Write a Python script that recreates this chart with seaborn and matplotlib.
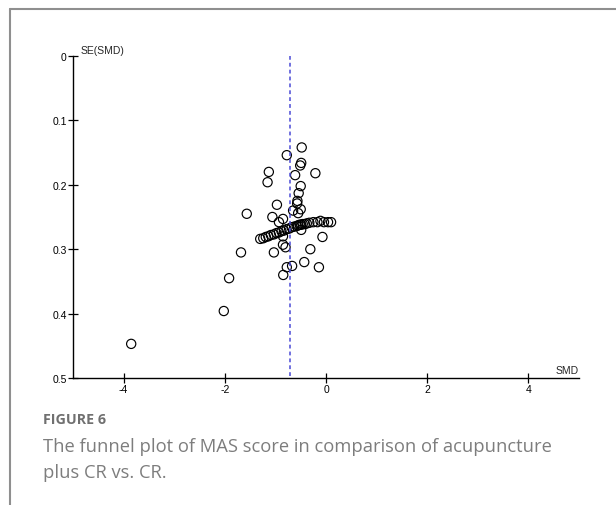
import matplotlib
matplotlib.use("Agg")
import matplotlib.pyplot as plt
from matplotlib.lines import Line2D
import numpy as np
import pandas as pd
import seaborn as sns

# ---- data ----
smd = [-3.85, -2.02, -1.915, -1.68, -1.566, -1.03, -0.97, -1.13, -1.155, -0.775,
       -0.48, -0.49, -0.51, -0.61, -0.21, -0.50, -0.54, -0.565, -0.57, -0.65,
       -0.50, -0.55, -1.06, -0.85, -0.93, -0.07, -0.31, -0.43, -0.14, -0.67,
       -0.775, -0.845, -0.85, -0.80, -0.85, -0.49,
       -1.30, -1.24, -1.19, -1.14, -1.09, -1.03, -0.98, -0.93, -0.88, -0.83,
       -0.78, -0.73, -0.68, -0.63, -0.58,
       -0.55, -0.52, -0.49, -0.46, -0.42, -0.38, -0.33, -0.25, -0.17, -0.11,
       -0.04, 0.04, 0.10]
se = [0.447, 0.396, 0.345, 0.305, 0.245, 0.305, 0.231, 0.180, 0.196, 0.154,
      0.142, 0.166, 0.170, 0.185, 0.182, 0.202, 0.213, 0.225, 0.229, 0.240,
      0.238, 0.244, 0.250, 0.253, 0.258, 0.281, 0.300, 0.320, 0.328, 0.326,
      0.328, 0.340, 0.293, 0.297, 0.280, 0.270,
      0.284, 0.283, 0.281, 0.280, 0.278, 0.277, 0.275, 0.274, 0.272, 0.271,
      0.269, 0.268, 0.266, 0.265, 0.264,
      0.263, 0.262, 0.262, 0.261, 0.261, 0.260, 0.259, 0.258, 0.258, 0.256,
      0.258, 0.258, 0.258]
pooled_smd = -0.71
x_ticks = [-4, -2, 0, 2, 4]
x_tick_labels = ["-4", "-2", "0", "2", "4"]
y_ticks = [0, 0.1, 0.2, 0.3, 0.4, 0.5]
y_tick_labels = ["0", "0.1", "0.2", "0.3", "0.4", "0.5"]
x_label = "SMD"
y_label = "SE(SMD)"
fig_label = "FIGURE 6"
caption = ["The funnel plot of MAS score in comparison of acupuncture",
           "plus CR vs. CR."]

sns.set_style("ticks")
plt.rcParams['font.family'] = ['Liberation Sans', 'DejaVu Sans']

fig = plt.figure(figsize=(6.16, 5.06), dpi=100)
ax = fig.add_axes([73 / 616, 1 - 379 / 506, (579 - 73) / 616, (379 - 57) / 506])

df = pd.DataFrame({"SMD": smd, "SE": se})
sns.scatterplot(data=df, x="SMD", y="SE", ax=ax, s=44, marker="o",
                facecolors="none", edgecolors="black", linewidth=0.85,
                legend=False)

ax.axvline(pooled_smd, ymin=0.005, ymax=1.0, color="#4a4ad6", lw=1.1,
           linestyle=(0, (2.5, 2)))

ax.set_xlim(-5, 5)
ax.set_ylim(0.5, 0)
ax.set_xticks(x_ticks)
ax.set_xticklabels(x_tick_labels)
ax.set_yticks(y_ticks)
ax.set_yticklabels(y_tick_labels)
ax.set_xlabel("")
ax.set_ylabel("")
for side in ["top", "right"]:
    ax.spines[side].set_visible(False)
for side in ["left", "bottom"]:
    ax.spines[side].set_color("black")
    ax.spines[side].set_linewidth(1.0)
ax.tick_params(direction="inout", length=7, width=0.9, labelsize=7.5,
               colors="black", pad=1)

ax.text(0.014, 1.004, y_label, transform=ax.transAxes, ha="left", va="bottom",
        fontsize=7.5)
ax.text(1.0, 0.008, x_label, transform=ax.transAxes, ha="right", va="bottom",
        fontsize=7.5)

fig.text(43 / 616, 1 - 420 / 506, fig_label, ha="left", va="center",
         fontsize=10.3, fontweight="bold", color="#707070",
         family=["Open Sans", "DejaVu Sans"])
fig.text(43 / 616, 1 - 447 / 506, caption[0], ha="left", va="center",
         fontsize=13.2, color="#7d7d7d", family=["Open Sans", "DejaVu Sans"])
fig.text(43 / 616, 1 - 473 / 506, caption[1], ha="left", va="center",
         fontsize=13.2, color="#7d7d7d", family=["Open Sans", "DejaVu Sans"])

# panel frame (left and top edges)
fig.add_artist(Line2D([9.5 / 616, 9.5 / 616], [0, 1 - 10 / 506],
                      transform=fig.transFigure, color="#8f8f8f", lw=1.5))
fig.add_artist(Line2D([9.5 / 616, 1.0], [1 - 10 / 506, 1 - 10 / 506],
                      transform=fig.transFigure, color="#8f8f8f", lw=1.5))

fig.savefig("out.png", dpi=100)
